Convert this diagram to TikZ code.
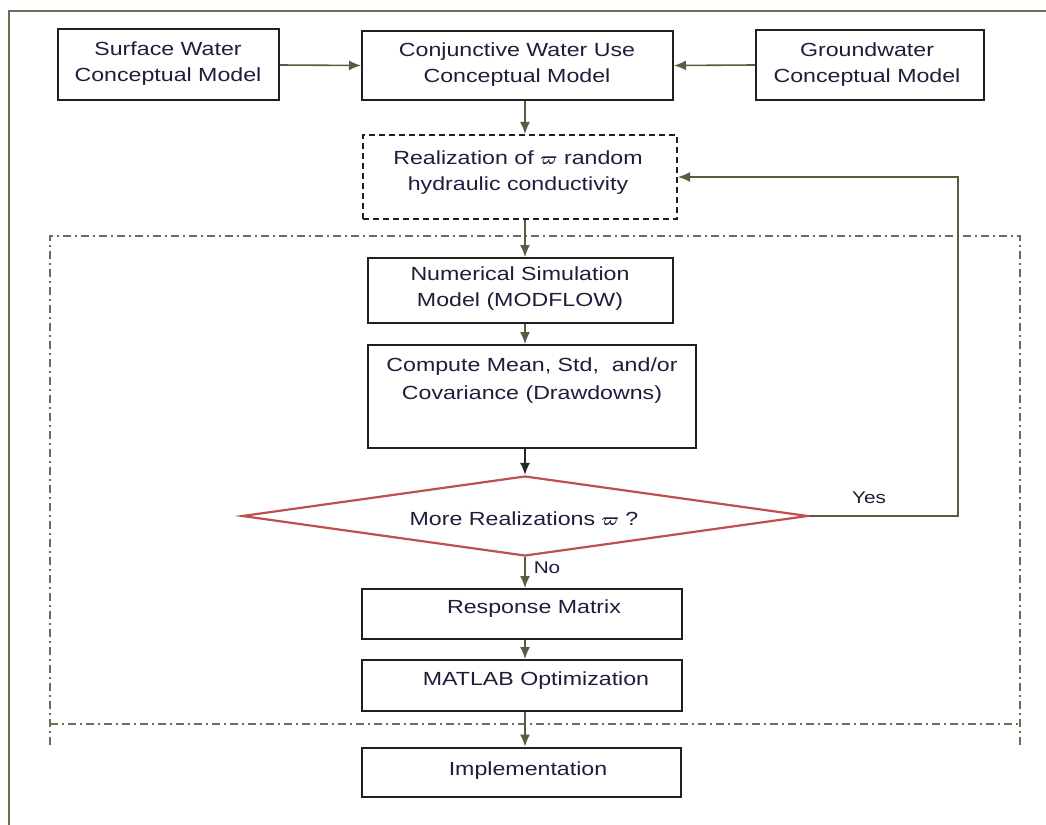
\documentclass[tikz,border=0pt]{standalone}
\usepackage{fontspec}
\setmainfont[FakeStretch=1.22]{Liberation Sans}
\usetikzlibrary{arrows.meta,shapes.geometric}
\definecolor{ink}{HTML}{1E1E3C}
\definecolor{wire}{HTML}{5C5A40}
\definecolor{rim}{HTML}{6E6C55}
\definecolor{redline}{HTML}{C0504D}
\newcommand{\vpi}{{\boldmath$\varpi$}}
\begin{document}
\begin{tikzpicture}[x=1pt,y=-1pt,
  box/.style={draw=black!88, line width=2pt, inner sep=0pt, fill=white},
  dbox/.style={box, dash pattern=on 6pt off 4pt},
  txt/.style={text=ink, font=\fontsize{19}{26}\selectfont, align=center, inner sep=0pt},
  small/.style={text=ink, font=\fontsize{17}{20}\selectfont, inner sep=0pt},
  arr/.style={draw=wire, line width=1.6pt, -{Latex[length=12pt,width=10pt]}},
  darr/.style={arr, draw=black!85},
  dashdot/.style={draw=rim, line width=1.6pt, dash pattern=on 8pt off 4pt on 2pt off 4pt},
  decision/.style={diamond, draw=redline, line width=2.2pt, inner sep=0pt, fill=white}]
\useasboundingbox (0,0) rectangle (1046,824);
\clip (0,0) rectangle (1046,824);
\fill[white] (0,0) rectangle (1046,824);

% page border
\draw[draw=rim, line width=2pt] (9,840) -- (9,11) -- (1060,11);

% loop frame (dash-dot)
\draw[dashdot] (50,745) -- (50,236) -- (1020,236) -- (1020,745);
\draw[dashdot] (50,724) -- (1020,724);

% guide coordinates
\coordinate (spine) at (525,0);
\coordinate (loop) at (958,0);

% boxes
\node[box, minimum width=221pt, minimum height=71pt] (sw) at (168.5,65) {};
\node[box, minimum width=311pt, minimum height=69pt] (cw) at (517.5,65.5) {};
\node[box, minimum width=228pt, minimum height=70pt] (gw) at (870,65) {};
\node[dbox, minimum width=314pt, minimum height=84pt] (real) at (520,177) {};
\node[box, minimum width=305pt, minimum height=65pt] (num) at (520.5,290.5) {};
\node[box, minimum width=328pt, minimum height=103pt] (comp) at (532,396.5) {};
\node[decision, minimum width=566pt, minimum height=80pt] (dia) at (525,516) {};
\node[box, minimum width=320pt, minimum height=50pt] (resp) at (522,614) {};
\node[box, minimum width=320pt, minimum height=51pt] (mat) at (522,685.5) {};
\node[box, minimum width=319pt, minimum height=49pt] (impl) at (521.5,772) {};

% texts
\node[txt] (swt) at (168,64) {Surface Water\\Conceptual Model};
\node[txt] (cwt) at (517,65) {Conjunctive Water Use\\Conceptual Model};
\node[txt] (gwt) at (867,65) {Groundwater\\Conceptual Model};
\node[txt] (realt) at (518,173) {Realization of \vpi\ random\\hydraulic conductivity};
\node[txt] (numt) at (520,289) {Numerical Simulation\\Model (MODFLOW)};
\node[txt, font=\fontsize{19}{28}\selectfont] (compt) at (532,381) {Compute Mean, Std,\ \ and/or\\Covariance (Drawdowns)};
\node[txt] (diat) at (524,519) {More Realizations \vpi\ ?};
\node[txt] (respt) at (534,609) {Response Matrix};
\node[txt] (matt) at (536,681) {MATLAB Optimization};
\node[txt] (implt) at (528,771) {Implementation};

% connectors
\draw[arr] (sw.east) -- (cw.west);
\draw[arr] (gw.west) -- (cw.east);
\draw[arr] (cw.south -| spine) -- (real.north -| spine);
\draw[arr] (real.south -| spine) -- (num.north -| spine);
\draw[arr] (num.south -| spine) -- (comp.north -| spine);
\draw[darr] (comp.south -| dia.north) -- (dia.north);
\draw[arr] (dia.south) -- (resp.north -| dia.south);
\draw[arr] (resp.south -| spine) -- (mat.north -| spine);
\draw[arr] (mat.south -| spine) -- (impl.north -| spine);
\draw[arr] (dia.east) -- (dia.east -| loop) -- (real.east -| loop) -- (real.east);

% branch labels
\node[small] (yes) at (869,498) {Yes};
\node[small] (no) at (547,568) {No};
\end{tikzpicture}
\end{document}
